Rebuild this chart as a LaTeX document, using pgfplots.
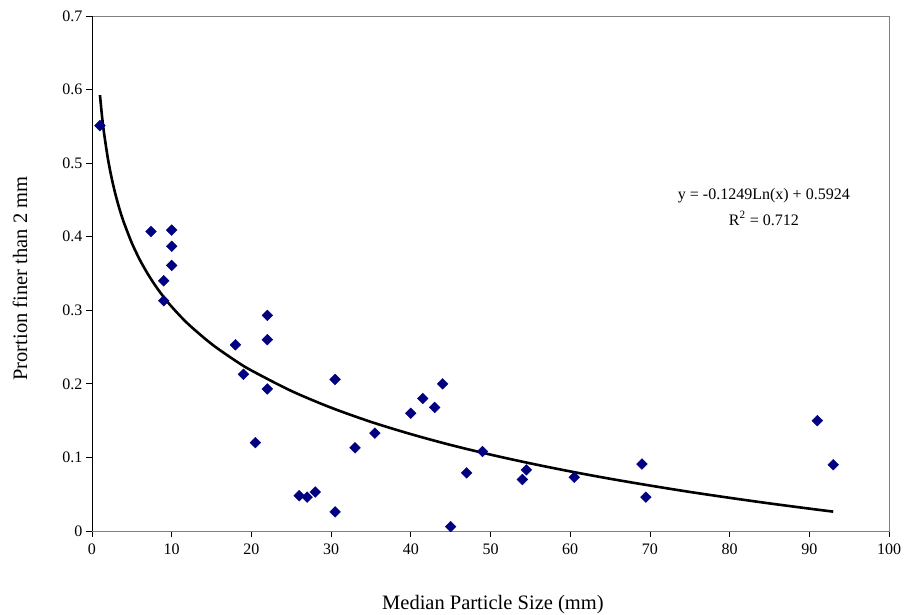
\documentclass[border=0pt]{standalone}
\usepackage{fontspec}
\setmainfont{Liberation Serif}
\usepackage{pgfplots}
\pgfplotsset{compat=1.18}
\definecolor{navy}{RGB}{0,0,128}
\begin{document}
\begin{tikzpicture}
\begin{axis}[
  name=ax,
  scale only axis,
  width=797pt, height=515pt,
  xmin=0, xmax=100, ymin=0, ymax=0.7,
  xtick={0,10,...,100},
  ytick={0,0.1,...,0.7},
  xtick pos=left, ytick pos=left,
  tick align=outside,
  major tick length=6pt,
  tick style={black, line width=0.8pt},
  axis line style={gray, line width=0.9pt},
  /pgf/number format/assume math mode=true,
  yticklabel style={/pgf/number format/.cd, fixed, precision=1, /tikz/.cd, font=\fontsize{16}{18}\selectfont},
  xticklabel style={font=\fontsize{16}{18}\selectfont, yshift=-3pt},
  xlabel={Median Particle Size (mm)},
  ylabel={Prortion finer than 2 mm},
  xlabel style={at={(axis description cs:0.503,-0.142)}, anchor=center, font=\fontsize{20.5}{24}\selectfont},
  ylabel style={at={(axis description cs:-0.0903,0.49)}, anchor=center, rotate=0, font=\fontsize{20.5}{24}\selectfont},
]
\draw[black, line width=0.9pt] (rel axis cs:0,1) -- (rel axis cs:0,0) -- (rel axis cs:1,0);
\addplot[only marks, mark=square*, mark size=3.8pt, mark options={rotate=45, fill=navy, draw=navy}] coordinates {
(1,0.551) (7.4,0.407) (10,0.409) (10,0.387) (10,0.361) (9,0.340) (9,0.313)
(18,0.253) (19,0.213) (22,0.293) (22,0.260) (22,0.193) (20.5,0.120)
(26,0.048) (27,0.046) (28,0.053) (30.5,0.206) (30.5,0.026) (33,0.113)
(35.5,0.133) (40,0.160) (41.5,0.180) (43,0.168) (44,0.200) (45,0.006)
(47,0.079) (49,0.108) (54,0.070) (54.5,0.083) (60.5,0.073) (69,0.091)
(69.5,0.046) (91,0.150) (93,0.090)
};
\addplot[black, line width=2.6pt, smooth] coordinates {
(1,0.5924) (1.25,0.5645) (1.5,0.5418) (2,0.5058) (2.5,0.4780) (3,0.4552)
(3.5,0.4359) (4,0.4193) (5,0.3914) (6,0.3686) (7,0.3494) (8,0.3327)
(9,0.3180) (10,0.3048) (12,0.2820) (15,0.2542) (18,0.2314) (20,0.2182)
(25,0.1904) (30,0.1676) (35,0.1483) (40,0.1317) (45,0.1169) (50,0.1038)
(55,0.0919) (60,0.0810) (65,0.0710) (70,0.0618) (75,0.0531) (80,0.0451)
(85,0.0375) (90,0.0304) (93,0.0263)
};
\node[font=\fontsize{16}{18}\selectfont, anchor=center] at (axis cs:84.3,0.456) {y = -0.1249Ln(x) + 0.5924};
\node[font=\fontsize{16}{18}\selectfont, anchor=center] at (axis cs:84.3,0.425) {R\textsuperscript{2} = 0.712};
\end{axis}
\pgfresetboundingbox
\path[use as bounding box] ([shift={(-92pt,-84pt)}]ax.south west) rectangle ([shift={(15pt,16pt)}]ax.north east);
\end{tikzpicture}
\end{document}
